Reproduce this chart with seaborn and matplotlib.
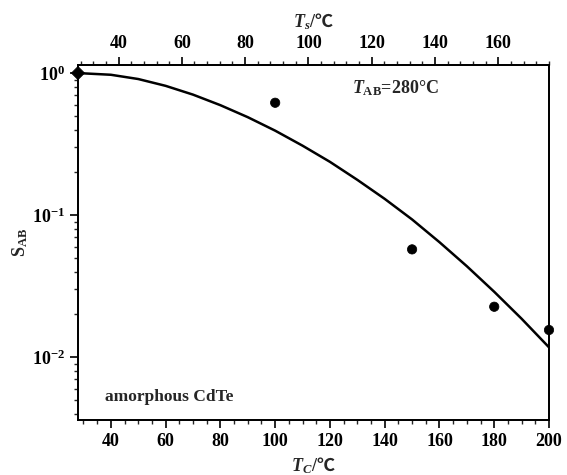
import numpy as np
import pandas as pd
import matplotlib
matplotlib.use("Agg")
import matplotlib.pyplot as plt
import seaborn as sns
from matplotlib.ticker import FixedLocator, MultipleLocator, LogLocator, NullFormatter

# ---- data ----
tc_curve = [28, 40, 50, 60, 70, 80, 90, 100, 110, 120, 130, 140, 150, 160, 170, 180, 190, 200]
s_curve = [1.0, 0.973, 0.908, 0.813, 0.705, 0.594, 0.489, 0.393, 0.308, 0.237,
           0.177, 0.130, 0.0931, 0.0644, 0.0436, 0.0288, 0.0186, 0.0117]

tc_points = [28, 100, 150, 180, 200]
s_points = [1.0, 0.618, 0.0573, 0.0226, 0.0155]
point_kind = ["diamond", "circle", "circle", "circle", "circle"]

bottom_ticks = [40, 60, 80, 100, 120, 140, 160, 180, 200]
top_ticks = [40, 60, 80, 100, 120, 140, 160]
y_ticks = [1e-2, 1e-1, 1e0]
y_tick_labels = [r"$\mathbf{10^{-2}}$", r"$\mathbf{10^{-1}}$", r"$\mathbf{10^{0}}$"]

# ---- style ----
sns.set_theme(style="ticks")
plt.rcParams["font.family"] = ["Liberation Serif", "DejaVu Serif", "Noto Sans CJK SC"]
plt.rcParams["font.weight"] = "bold"
plt.rcParams["mathtext.fontset"] = "custom"
plt.rcParams["mathtext.rm"] = "Noto Sans CJK SC"
plt.rcParams["mathtext.it"] = "Liberation Serif:italic"
plt.rcParams["mathtext.bf"] = "Liberation Serif:bold"
plt.rcParams["mathtext.bfit"] = "Liberation Serif:italic:bold"
plt.rcParams["axes.linewidth"] = 1.3
plt.rcParams["axes.edgecolor"] = "black"

fig = plt.figure(figsize=(5.67, 4.75), dpi=100)
ax = fig.add_axes([78 / 567, 55 / 475, 471 / 567, 355 / 475])

ax.set_yscale("log")
sns.lineplot(x=tc_curve, y=s_curve, ax=ax, color="black", linewidth=1.8)

df = pd.DataFrame({"Tc": tc_points, "S": s_points, "kind": point_kind})
sns.scatterplot(data=df, x="Tc", y="S", style="kind",
                markers={"diamond": "D", "circle": "o"}, color="black",
                edgecolor="black", s=45, ax=ax, legend=False, zorder=5, clip_on=False)

ax.set_xlim(28, 200)
ax.set_ylim(0.0036, 1.14)

ax.xaxis.set_major_locator(FixedLocator(bottom_ticks))
ax.xaxis.set_minor_locator(MultipleLocator(5))
ax.set_xticklabels([str(t) for t in bottom_ticks])
ax.yaxis.set_major_locator(FixedLocator(y_ticks))
ax.set_yticklabels(y_tick_labels)
ax.yaxis.set_minor_locator(LogLocator(base=10, subs=np.arange(2, 10)))
ax.yaxis.set_minor_formatter(NullFormatter())

ax.tick_params(axis="both", which="major", direction="out", length=6, width=1.2,
               labelsize=13, colors="black", pad=3)
ax.tick_params(axis="both", which="minor", direction="out", length=3, width=1.0)
ax.tick_params(right=False, top=False)

for sp in ax.spines.values():
    sp.set_visible(True)
    sp.set_color("black")

ax.set_xlabel(r"$\mathbfit{T}_{\mathbfit{C}}\mathbf{/}\mathrm{℃}$", fontsize=13, labelpad=4)
ax.set_ylabel(r"$\mathbf{S}_{\mathbf{AB}}$", fontsize=13, labelpad=2)

ax2 = ax.twiny()
ax2.set_xlim(27.2, 176)
ax2.xaxis.set_major_locator(FixedLocator(top_ticks))
ax2.xaxis.set_minor_locator(MultipleLocator(4))
ax2.set_xticklabels([str(t) for t in top_ticks])
ax2.tick_params(axis="x", which="major", direction="out", length=6, width=1.2,
                labelsize=13, colors="black", pad=3)
ax2.tick_params(axis="x", which="minor", direction="out", length=3, width=1.0)
ax2.set_xlabel(r"$\mathbfit{T}_{\mathbfit{s}}\mathbf{/}\mathrm{℃}$", fontsize=13, labelpad=6)

ax.text(0.582, 0.935, r"$\mathit{T}_{\mathbf{AB}}$=280°C", transform=ax.transAxes,
        fontsize=13, fontweight="bold", ha="left", va="center")
ax.text(0.057, 0.065, "amorphous CdTe", transform=ax.transAxes,
        fontsize=12.5, fontweight="bold", ha="left", va="center")

fig.savefig("out.png", dpi=100)
